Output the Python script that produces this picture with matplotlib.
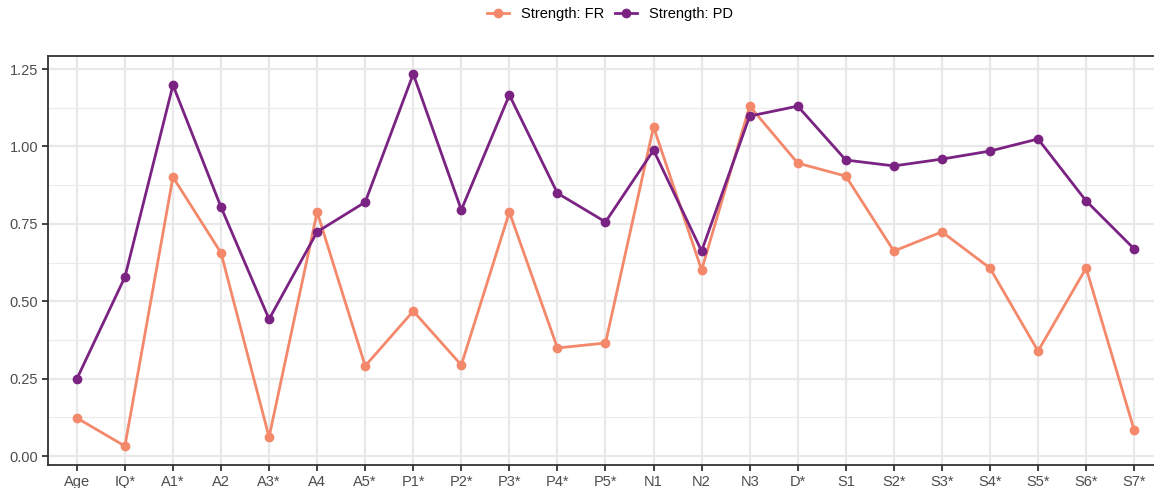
import matplotlib.pyplot as plt
import numpy as np

plt.rcParams['font.family'] = ['Liberation Sans', 'DejaVu Sans']

categories = ['Age', 'IQ*', 'A1*', 'A2', 'A3*', 'A4', 'A5*', 'P1*', 'P2*', 'P3*',
              'P4*', 'P5*', 'N1', 'N2', 'N3', 'D*', 'S1', 'S2*', 'S3*', 'S4*',
              'S5*', 'S6*', 'S7*']
strength_fr = [0.123, 0.032, 0.901, 0.656, 0.061, 0.788, 0.291, 0.468, 0.294, 0.788,
               0.349, 0.365, 1.063, 0.601, 1.130, 0.946, 0.904, 0.662, 0.724, 0.607,
               0.339, 0.607, 0.084]
strength_pd = [0.249, 0.578, 1.198, 0.804, 0.442, 0.724, 0.820, 1.234, 0.795, 1.166,
               0.849, 0.756, 0.988, 0.662, 1.098, 1.130, 0.956, 0.937, 0.959, 0.985,
               1.024, 0.824, 0.669]
series_labels = ['Strength: FR', 'Strength: PD']
colors = ['#F4886B', '#7B2382']

W, H = 1154, 488
fig = plt.figure(figsize=(W / 100, H / 100), dpi=100)
# panel runs off the right edge, like the original crop
ax = fig.add_axes([48 / W, (H - 465) / H, (1163 - 48) / W, (465 - 56) / H])

x = np.arange(len(categories))
for vals, lab, col in zip([strength_fr, strength_pd], series_labels, colors):
    ax.plot(x, vals, color=col, lw=2.0, marker='o', ms=6, label=lab, zorder=3)

ax.set_xlim(-0.6, len(categories) - 1 + 0.6)
ax.set_ylim(-0.029, 1.292)
ax.set_xticks(x)
ax.set_xticklabels(categories)
ax.set_yticks([0, 0.25, 0.5, 0.75, 1.0, 1.25])
ax.set_yticklabels(['0.00', '0.25', '0.50', '0.75', '1.00', '1.25'])
ax.set_yticks([0.125, 0.375, 0.625, 0.875, 1.125], minor=True)

ax.grid(True, which='major', color='#E8E8E8', lw=1.6, zorder=0)
ax.grid(True, which='minor', axis='y', color='#EBEBEB', lw=0.8, zorder=0)
ax.set_axisbelow(True)

for s in ['left', 'bottom', 'top']:
    ax.spines[s].set_color('#333333')
    ax.spines[s].set_linewidth(1.3)
ax.spines['right'].set_visible(False)
ax.tick_params(which='major', length=4, width=1.3, color='#333333',
               labelsize=10.5, labelcolor='#4D4D4D', pad=3)
ax.tick_params(which='minor', length=0)

fig.legend(loc='center', bbox_to_anchor=(610 / W, 1 - 14 / H), ncol=2, frameon=False,
           fontsize=10.5, handlelength=1.5, columnspacing=0.8, handletextpad=0.8)

fig.savefig('out.png', dpi=100)
